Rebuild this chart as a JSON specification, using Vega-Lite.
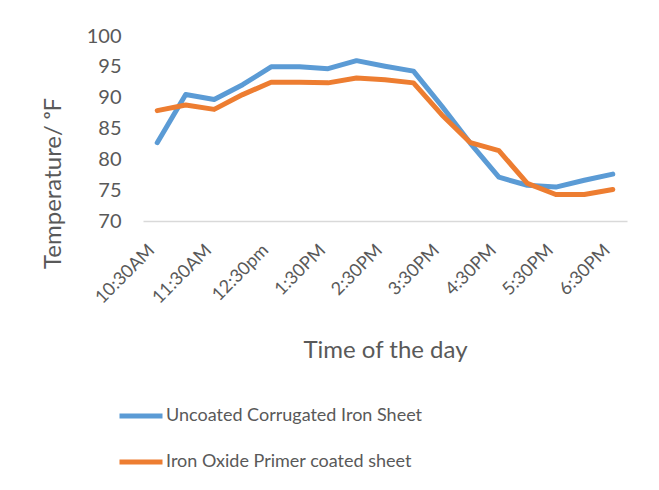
{
  "$schema": "https://vega.github.io/schema/vega-lite/v6.json",
  "width": 484,
  "height": 185,
  "autosize": "none",
  "padding": {"left": 143, "top": 36, "right": 32, "bottom": 269},
  "background": "white",
  "config": {
    "view": {"stroke": null},
    "font": "Lato"
  },
  "data": {
    "values": [
      {"time": "10:30AM", "series": "Uncoated Corrugated Iron Sheet", "temp": 82.7},
      {"time": "11:00AM", "series": "Uncoated Corrugated Iron Sheet", "temp": 90.5},
      {"time": "11:30AM", "series": "Uncoated Corrugated Iron Sheet", "temp": 89.7},
      {"time": "12:00pm", "series": "Uncoated Corrugated Iron Sheet", "temp": 92.1},
      {"time": "12:30pm", "series": "Uncoated Corrugated Iron Sheet", "temp": 95.0},
      {"time": "1:00PM", "series": "Uncoated Corrugated Iron Sheet", "temp": 95.0},
      {"time": "1:30PM", "series": "Uncoated Corrugated Iron Sheet", "temp": 94.7},
      {"time": "2:00PM", "series": "Uncoated Corrugated Iron Sheet", "temp": 96.0},
      {"time": "2:30PM", "series": "Uncoated Corrugated Iron Sheet", "temp": 95.1},
      {"time": "3:00PM", "series": "Uncoated Corrugated Iron Sheet", "temp": 94.3},
      {"time": "3:30PM", "series": "Uncoated Corrugated Iron Sheet", "temp": 88.6},
      {"time": "4:00PM", "series": "Uncoated Corrugated Iron Sheet", "temp": 82.6},
      {"time": "4:30PM", "series": "Uncoated Corrugated Iron Sheet", "temp": 77.1},
      {"time": "5:00PM", "series": "Uncoated Corrugated Iron Sheet", "temp": 75.8},
      {"time": "5:30PM", "series": "Uncoated Corrugated Iron Sheet", "temp": 75.5},
      {"time": "6:00PM", "series": "Uncoated Corrugated Iron Sheet", "temp": 76.6},
      {"time": "6:30PM", "series": "Uncoated Corrugated Iron Sheet", "temp": 77.6},
      {"time": "10:30AM", "series": "Iron Oxide Primer coated sheet", "temp": 87.9},
      {"time": "11:00AM", "series": "Iron Oxide Primer coated sheet", "temp": 88.8},
      {"time": "11:30AM", "series": "Iron Oxide Primer coated sheet", "temp": 88.1},
      {"time": "12:00pm", "series": "Iron Oxide Primer coated sheet", "temp": 90.5},
      {"time": "12:30pm", "series": "Iron Oxide Primer coated sheet", "temp": 92.5},
      {"time": "1:00PM", "series": "Iron Oxide Primer coated sheet", "temp": 92.5},
      {"time": "1:30PM", "series": "Iron Oxide Primer coated sheet", "temp": 92.4},
      {"time": "2:00PM", "series": "Iron Oxide Primer coated sheet", "temp": 93.2},
      {"time": "2:30PM", "series": "Iron Oxide Primer coated sheet", "temp": 92.9},
      {"time": "3:00PM", "series": "Iron Oxide Primer coated sheet", "temp": 92.4},
      {"time": "3:30PM", "series": "Iron Oxide Primer coated sheet", "temp": 87.2},
      {"time": "4:00PM", "series": "Iron Oxide Primer coated sheet", "temp": 82.7},
      {"time": "4:30PM", "series": "Iron Oxide Primer coated sheet", "temp": 81.4},
      {"time": "5:00PM", "series": "Iron Oxide Primer coated sheet", "temp": 76.1},
      {"time": "5:30PM", "series": "Iron Oxide Primer coated sheet", "temp": 74.3},
      {"time": "6:00PM", "series": "Iron Oxide Primer coated sheet", "temp": 74.3},
      {"time": "6:30PM", "series": "Iron Oxide Primer coated sheet", "temp": 75.1}
    ]
  },
  "mark": {"type": "line", "strokeWidth": 5, "strokeCap": "round", "strokeJoin": "round"},
  "encoding": {
    "x": {
      "field": "time",
      "type": "ordinal",
      "sort": null,
      "scale": {"type": "point", "padding": 0.5},
      "axis": {
        "values": ["10:30AM", "11:30AM", "12:30pm", "1:30PM", "2:30PM", "3:30PM", "4:30PM", "5:30PM", "6:30PM"],
        "title": "Time of the day",
        "titleFontSize": 24,
        "titleFontWeight": "normal",
        "titleColor": "#595959",
        "titleBaseline": "alphabetic",
        "titleY": 136,
        "labelAngle": -45,
        "labelFontSize": 18,
        "labelColor": "#595959",
        "labelPadding": 20,
        "labelOffset": -12,
        "labelOverlap": false,
        "ticks": false,
        "domainColor": "#D9D9D9",
        "domainWidth": 1.5,
        "grid": false
      }
    },
    "y": {
      "field": "temp",
      "type": "quantitative",
      "scale": {"domain": [70, 100], "nice": false, "zero": false},
      "axis": {
        "values": [70, 75, 80, 85, 90, 95, 100],
        "title": "Temperature/ ᵒF",
        "titleFontSize": 24,
        "titleFontWeight": "normal",
        "titleColor": "#595959",
        "titleBaseline": "alphabetic",
        "titleX": -83,
        "titleY": 147,
        "labelFontSize": 20,
        "labelColor": "#595959",
        "labelPadding": 22,
        "ticks": false,
        "domain": false,
        "grid": false
      }
    },
    "color": {
      "field": "series",
      "type": "nominal",
      "sort": ["Uncoated Corrugated Iron Sheet", "Iron Oxide Primer coated sheet"],
      "scale": {"range": ["#5B9BD5", "#ED7D31"]},
      "legend": {
        "title": null,
        "orient": "none",
        "legendX": -26,
        "legendY": 356,
        "direction": "vertical",
        "symbolType": "stroke",
        "symbolSize": 1849,
        "symbolStrokeWidth": 5,
        "labelFontSize": 18,
        "labelColor": "#595959",
        "labelOffset": 1,
        "rowPadding": 12,
        "labelLimit": 400
      }
    }
  }
}
